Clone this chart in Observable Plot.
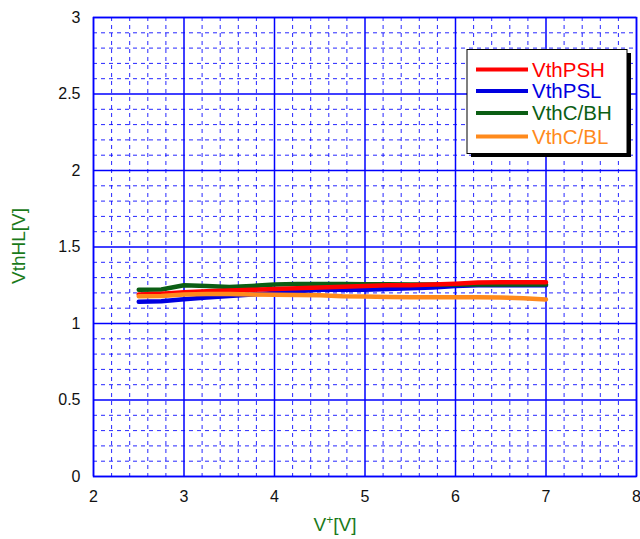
<!DOCTYPE html>
<html><head><meta charset="utf-8">
<script src="https://cdn.jsdelivr.net/npm/d3@7"></script>
<script src="https://cdn.jsdelivr.net/npm/@observablehq/plot@0.6"></script>
<style>
body{margin:0;background:#fff;font-family:"Liberation Sans",Arial,sans-serif;}
#chart{position:relative;width:640px;height:539px;}
</style></head>
<body><div id="chart"></div>
<script>
const xs = [2.5,2.75,3,3.25,3.5,3.75,4,4.25,4.5,4.75,5,5.25,5.5,5.75,6,6.25,6.5,6.75,7];
const vthPSH = [1.19,1.195,1.205,1.21,1.215,1.22,1.225,1.23,1.235,1.24,1.245,1.25,1.25,1.255,1.26,1.268,1.27,1.27,1.27];
const vthPSL = [1.142,1.145,1.158,1.17,1.18,1.19,1.2,1.21,1.22,1.22,1.22,1.225,1.23,1.235,1.245,1.25,1.25,1.25,1.25];
const vthCBH = [1.22,1.222,1.25,1.245,1.238,1.245,1.255,1.258,1.258,1.258,1.256,1.256,1.255,1.255,1.255,1.255,1.255,1.255,1.255];
const vthCBL = [1.178,1.18,1.19,1.192,1.192,1.19,1.188,1.186,1.184,1.178,1.176,1.174,1.172,1.172,1.172,1.172,1.17,1.165,1.157];
const seriesNames = ["VthPSH","VthPSL","VthC/BH","VthC/BL"];
const seriesColors = ["#ff0000","#0000e0","#0b5e14","#ff8a1c"];
const xTicks = [2,3,4,5,6,7,8];
const yTicks = [0,0.5,1,1.5,2,2.5,3];
const xMinor = d3.range(2,8.001,0.2).map(v=>+v.toFixed(2));
const yMinor = d3.range(0,3.001,0.1).map(v=>+v.toFixed(2));

const allSeries = [vthPSH,vthPSL,vthCBH,vthCBL];
const rows = [];
allSeries.forEach((vals,i)=>vals.forEach((v,j)=>rows.push({x:xs[j],y:v,s:seriesNames[i]})));
const drawOrder = ["VthPSL","VthC/BH","VthPSH","VthC/BL"];
const gridBlue = "#0000ff";

const plot = Plot.plot({
  width:640, height:539,
  marginLeft:93, marginRight:4, marginTop:17, marginBottom:63,
  style:{fontFamily:"Liberation Sans, Arial, sans-serif", fontSize:"16px", background:"#fff"},
  x:{domain:[2,8], ticks:xTicks, tickSize:0, tickPadding:14, label:null, tickFormat:d=>String(d)},
  y:{domain:[0,3], ticks:yTicks, tickSize:0, tickPadding:13, label:null, tickFormat:d=>String(d)},
  color:{domain:seriesNames, range:seriesColors},
  marks:[
    Plot.ruleX(xMinor.filter(v=>Math.abs(v-Math.round(v))>1e-6),{stroke:gridBlue,strokeWidth:1,strokeDasharray:"4,4",strokeOpacity:0.85}),
    Plot.ruleY(yMinor.filter(v=>Math.abs(v*2-Math.round(v*2))>1e-6),{stroke:gridBlue,strokeWidth:1,strokeDasharray:"4,4",strokeOpacity:0.85}),
    Plot.ruleX(xTicks,{stroke:gridBlue,strokeWidth:1.5}),
    Plot.ruleY(yTicks,{stroke:gridBlue,strokeWidth:1.5}),
    Plot.frame({stroke:gridBlue,strokeWidth:1.5}),
    ...drawOrder.map(name=>Plot.line(rows.filter(r=>r.s===name),{x:"x",y:"y",stroke:seriesColors[seriesNames.indexOf(name)],strokeWidth:4.5,curve:"linear"})),
    Plot.axisX({ticks:xTicks,tickSize:0,tickPadding:14,fontSize:16,fill:"#111",label:null,tickFormat:d=>String(d)}),
    Plot.axisY({ticks:yTicks,tickSize:0,tickPadding:13,fontSize:16,fill:"#111",label:null,tickFormat:d=>String(d)})
  ]
});
document.getElementById("chart").appendChild(plot);

const svg = d3.select(plot);
// axis titles
svg.append("text").attr("x",335).attr("y",531).attr("text-anchor","middle")
  .attr("fill","#1a7a1a").attr("font-size",19).attr("font-family","Liberation Sans, Arial, sans-serif")
  .html('V<tspan dy="-7" font-size="12">+</tspan><tspan dy="7">[V]</tspan>');
svg.append("text").attr("transform","translate(25,246) rotate(-90)").attr("text-anchor","middle")
  .attr("fill","#1a7a1a").attr("font-size",19).attr("font-family","Liberation Sans, Arial, sans-serif")
  .text("VthHL[V]");
// legend
const lg = svg.append("g");
lg.append("rect").attr("x",471).attr("y",53).attr("width",160).attr("height",104).attr("fill","#000");
lg.append("rect").attr("x",467).attr("y",49.5).attr("width",160).attr("height",104).attr("fill","#fff").attr("stroke","#000").attr("stroke-width",1);
const rowY = [69.5,91,113,136.5];
seriesNames.forEach((n,i)=>{
  lg.append("line").attr("x1",476).attr("x2",528).attr("y1",rowY[i]).attr("y2",rowY[i]).attr("stroke",seriesColors[i]).attr("stroke-width",4);
  lg.append("text").attr("x",532).attr("y",rowY[i]).attr("dy","0.36em").attr("text-anchor","start").attr("fill",seriesColors[i])
    .attr("font-size",20.5).attr("font-family","Liberation Sans, Arial, sans-serif").text(n);
});
</script></body></html>
